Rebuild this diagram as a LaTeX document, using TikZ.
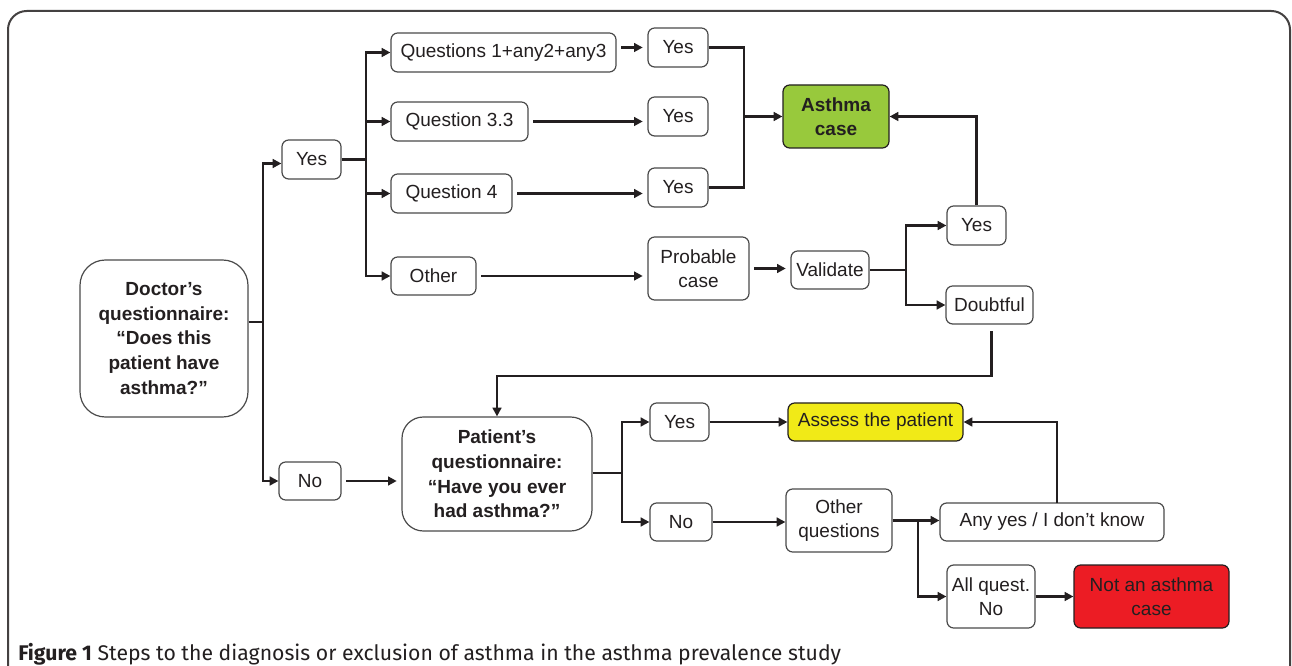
\documentclass[tikz,border=0pt]{standalone}
\usepackage{fontspec}
\setmainfont{Liberation Sans}
\newfontfamily\capfont{Fira Sans}
\usetikzlibrary{arrows.meta}
\definecolor{ink}{HTML}{231F20}
\definecolor{bord}{HTML}{4A4A4A}
\definecolor{agreen}{HTML}{98C93C}
\definecolor{ayellow}{HTML}{F1EA17}
\definecolor{ared}{HTML}{EC1C24}
\newcommand\pxu{0.75pt}
\tikzset{
  box/.style={draw=bord, line width=0.9pt, rounded corners=5pt, fill=white,
    inner sep=0pt, align=center, text=ink,
    font=\fontsize{14.25pt}{18.4pt}\selectfont},
  bigbox/.style={box, rounded corners=19pt, font=\bfseries\fontsize{14.25pt}{18.4pt}\selectfont},
  conn/.style={draw=ink, line width=2.2pt},
  arr/.style={conn, -{Triangle[length=6.5pt,width=6.5pt]}},
  garr/.style={arr, shorten <=3.5pt, shorten >=3.5pt},
  frame/.style={draw=ink!85, line width=1.5pt, rounded corners=14pt}
}
\begin{document}
\begin{tikzpicture}[x=0.75pt, y=-0.75pt]
\useasboundingbox (0,0) rectangle (1292,666);
\fill[white] (0,0) rectangle (1292,666);
\draw[frame] (8,700) -- (8,11) -- (1290,11) -- (1290,700);

% nodes
\node[bigbox, minimum width=168*\pxu, minimum height=157*\pxu, rounded corners=19pt] (doc) at (164,338.5)
  {Doctor’s\\questionnaire:\\“Does this\\patient have\\asthma?”};
\node[box, minimum width=59*\pxu, minimum height=39*\pxu] (yes0) at (311.5,159.5) {Yes};
\node[box, minimum width=62*\pxu, minimum height=38*\pxu] (no0) at (310,481) {No};
\node[bigbox, minimum width=190*\pxu, minimum height=114*\pxu, rounded corners=16pt] (pat) at (497,474)
  {Patient’s\\questionnaire:\\“Have you ever\\had asthma?”};
\node[box, minimum width=225*\pxu, minimum height=39*\pxu] (q1) at (503.5,52.5) {Questions 1+any2+any3};
\node[box, minimum width=137*\pxu, minimum height=39*\pxu] (q33) at (459.5,121.5) {Question 3.3};
\node[box, minimum width=121*\pxu, minimum height=39*\pxu] (q4) at (451.5,193.5) {Question 4};
\node[box, minimum width=85*\pxu, minimum height=38*\pxu] (oth) at (433.5,276) {Other};
\node[box, minimum width=60*\pxu, minimum height=39*\pxu] (y1) at (678,47.5) {Yes};
\node[box, minimum width=60*\pxu, minimum height=39*\pxu] (y2) at (678,116.5) {Yes};
\node[box, minimum width=60*\pxu, minimum height=39*\pxu] (y3) at (678,187.5) {Yes};
\node[box, minimum width=101*\pxu, minimum height=63*\pxu] (prob) at (698.5,268.5) {Probable\\case};
\node[box, minimum width=78*\pxu, minimum height=38*\pxu] (val) at (830,270) {Validate};
\node[box, minimum width=59*\pxu, minimum height=39*\pxu] (y4) at (976.5,225.5) {Yes};
\node[box, minimum width=87*\pxu, minimum height=38*\pxu] (doubt) at (989.5,305) {Doubtful};
\node[box, fill=agreen, draw=ink, minimum width=106*\pxu, minimum height=63*\pxu,
  font=\bfseries\fontsize{14.25pt}{18.4pt}\selectfont] (ac) at (836,116.5) {Asthma\\case};
\node[box, minimum width=59*\pxu, minimum height=38*\pxu] (y5) at (679.5,422) {Yes};
\node[box, minimum width=62*\pxu, minimum height=38*\pxu] (no2) at (681,522) {No};
\node[box, fill=ayellow, draw=ink, minimum width=175*\pxu, minimum height=38*\pxu] (assess) at (875.5,422) {Assess the patient};
\node[box, minimum width=106*\pxu, minimum height=63*\pxu] (oq) at (839,520.5) {Other\\questions};
\node[box, minimum width=224*\pxu, minimum height=38*\pxu] (any) at (1052,522) {Any yes / I don’t know};
\node[box, minimum width=88*\pxu, minimum height=63*\pxu] (allq) at (991,596.5) {All quest.\\No};
\node[box, fill=ared, draw=ink, minimum width=155*\pxu, minimum height=63*\pxu] (notc) at (1151.5,596.5) {Not an asthma\\case};

% junctions
\coordinate (jd) at (263,322);
\coordinate (jy) at (366,159.5);
\coordinate (ja) at (744,116.5);
\coordinate (jv) at (906,270);
\coordinate (jb) at (991.5,376);
\coordinate (jp) at (622,473);
\coordinate (jo) at (918,520.5);
\coordinate (jk) at (1057,503);

% connectors
\draw[conn] (doc.east |- jd) -- (jd);
\draw[arr] (jd) |- ([yshift=-4*\pxu]yes0.west);
\draw[arr] (jd) |- (no0.west);
\draw[conn] (yes0.east) -- (jy);
\draw[arr] (jy) |- (q1.west);
\draw[arr] (jy) |- (q33.west);
\draw[arr] (jy) |- (q4.west);
\draw[arr] (jy) |- (oth.west);
\draw[garr] (q1.east |- y1.west) -- (y1.west);
\draw[garr] (q33.east) -- (q33.east -| y2.west);
\draw[garr] (q4.east) -- (q4.east -| y3.west);
\draw[garr] (oth.east) -- (oth.east -| prob.west);
\draw[conn] (y1.east) -| (ja) |- (y3.east);
\draw[arr] (ja) -- (ac.west);
\draw[garr] (prob.east) -- (prob.east -| val.west);
\draw[conn] (val.east) -- (jv);
\draw[arr] (jv) |- (y4.west);
\draw[arr] (jv) |- (doubt.west);
\draw[arr] (y4.north) |- (ac.east);
\draw[arr, shorten <=5pt] (doubt.south -| jb) -- (jb) -| (pat.north);
\draw[garr] (no0.east) -- (no0.east -| pat.west);
\draw[conn] (pat.east |- jp) -- (jp);
\draw[arr] (jp) |- (y5.west);
\draw[arr] (jp) |- (no2.west);
\draw[arr] (y5.east) -- (assess.west);
\draw[arr] (no2.east) -- (no2.east -| oq.west);
\draw[arr] (oq.east) -- (oq.east -| any.west);
\draw[arr] (jo) |- (allq.west);
\draw[arr] (jk) |- (assess.east);
\draw[arr] (allq.east) -- (allq.east -| notc.west);

% caption
\node[anchor=base west, inner sep=0pt, text=ink, font=\capfont\fontsize{15.9pt}{18pt}\selectfont] (cap) at (18,660)
  {\textbf{Figure 1} Steps to the diagnosis or exclusion of asthma in the asthma prevalence study};
\end{tikzpicture}
\end{document}
